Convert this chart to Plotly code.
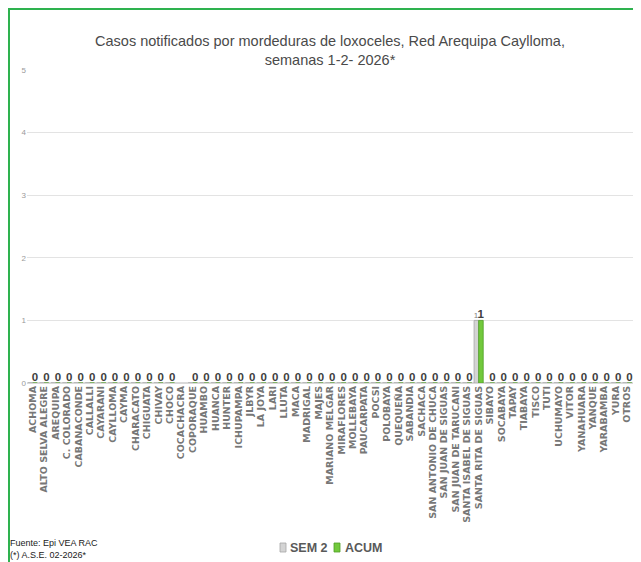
import plotly.graph_objects as go

categories = [
    "ACHOMA", "ALTO SELVA ALEGRE", "AREQUIPA", "C. COLORADO", "CABANACONDE",
    "CALLALLI", "CAYARANI", "CAYLLOMA", "CAYMA", "CHARACATO", "CHIGUATA",
    "CHIVAY", "CHOCO", "COCACHACRA", "COPORAQUE", "HUAMBO", "HUANCA", "HUNTER",
    "ICHUPAMPA", "JLBYR", "LA JOYA", "LARI", "LLUTA", "MACA", "MADRIGAL",
    "MAJES", "MARIANO MELGAR", "MIRAFLORES", "MOLLEBAYA", "PAUCARPATA",
    "POCSI", "POLOBAYA", "QUEQUEÑA", "SABANDIA", "SACHACA",
    "SAN ANTONIO DE CHUCA", "SAN JUAN DE SIGUAS", "SAN JUAN DE TARUCANI",
    "SANTA ISABEL DE SIGUAS", "SANTA RITA DE SIGUAS", "SIBAYO", "SOCABAYA",
    "TAPAY", "TIABAYA", "TISCO", "TUTI", "UCHUMAYO", "VITOR", "YANAHUARA",
    "YANQUE", "YARABAMBA", "YURA", "OTROS",
]

sem2 = [0] * len(categories)
acum = [0] * len(categories)
sem2[categories.index("SANTA RITA DE SIGUAS")] = 1
acum[categories.index("SANTA RITA DE SIGUAS")] = 1
acum[categories.index("COCACHACRA")] = None
sem2[categories.index("COCACHACRA")] = None

series_names = ["SEM 2", "ACUM"]
series_colors = ["#d4d4d4", "#72c93c"]
y_ticks = [0, 1, 2, 3, 4, 5]

# page is offset by the browser's 8px body margin
OFF = 8
W, H = 641 - OFF, 562 - OFF
# plot area in page pixels: x 27..633, y 70..383
L = 27 - OFF
R = W - (633 - OFF)
T = 70 - OFF
B = H - (383 - OFF)
pw, ph = W - L - R, H - T - B


def px_x(p):
    return (p - OFF - L) / pw


def px_y(p):
    return (H - B - (p - OFF)) / ph


sans = "Liberation Sans, Arial, sans-serif"

sem2_text = ["" if (v is None or v == 0) else str(v) for v in sem2]
acum_text = ["" if v is None else str(v) for v in acum]

fig = go.Figure()
fig.add_trace(go.Bar(
    name=series_names[0], x=categories, y=sem2,
    marker=dict(color=series_colors[0], line=dict(color="#a6a6a6", width=0.8)),
    text=sem2_text, textposition="outside", cliponaxis=False,
    constraintext="none",
    textfont=dict(family=sans, size=8, color="#808080"),
    showlegend=False,
))
fig.add_trace(go.Bar(
    name=series_names[1], x=categories, y=acum,
    marker=dict(color=series_colors[1], line=dict(color="#4e9e26", width=0.8)),
    text=acum_text, textposition="outside", cliponaxis=False,
    constraintext="none",
    textfont=dict(family=sans, size=11.5, color="#404040", weight="bold"),
    showlegend=False,
))

# legend built from squares + text (page pixel positions)
legend_items = [
    (series_names[0], series_colors[0], "#a6a6a6", 280, 288),
    (series_names[1], series_colors[1], "#4e9e26", 334, 343),
]
shapes = [
    dict(type="line", xref="paper", yref="paper",
         x0=px_x(OFF), x1=px_x(641), y0=px_y(OFF + 1), y1=px_y(OFF + 1),
         line=dict(color="#2eb24f", width=2)),
    dict(type="line", xref="paper", yref="paper",
         x0=px_x(OFF + 1), x1=px_x(OFF + 1), y0=px_y(OFF), y1=px_y(562),
         line=dict(color="#2eb24f", width=2)),
]
annotations = [
    dict(text="Fuente: Epi VEA RAC", x=px_x(OFF), y=px_y(543), xref="paper",
         yref="paper", xanchor="left", yanchor="middle", showarrow=False,
         font=dict(family=sans, size=9, color="#1a1a1a")),
    dict(text="(*) A.S.E. 02-2026*", x=px_x(OFF), y=px_y(555), xref="paper",
         yref="paper", xanchor="left", yanchor="middle", showarrow=False,
         font=dict(family=sans, size=9, color="#1a1a1a")),
]
for name, fill, edge, sx, tx in legend_items:
    shapes.append(dict(type="rect", xref="paper", yref="paper",
                       x0=px_x(sx), x1=px_x(sx + 6), y0=px_y(552), y1=px_y(543),
                       fillcolor=fill, line=dict(color=edge, width=0.8)))
    annotations.append(dict(text=name, x=px_x(tx), y=px_y(548), xref="paper",
                            yref="paper", xanchor="left", yanchor="middle",
                            showarrow=False,
                            font=dict(family=sans, size=12.5, color="#595959",
                                      weight="bold")))

fig.update_layout(
    width=W, height=H,
    margin=dict(l=L, r=R, t=T, b=B, autoexpand=False),
    paper_bgcolor="white", plot_bgcolor="white",
    barmode="group", bargap=0.2, bargroupgap=0,
    title=dict(
        text="Casos notificados por mordeduras de loxoceles, Red Arequipa Caylloma,<br>semanas 1-2- 2026*",
        x=px_x(330), xref="paper", xanchor="center",
        y=1 - (46 - OFF) / H, yref="container", yanchor="middle",
        font=dict(family=sans, size=14.5, color="#4a4a4a"),
    ),
    showlegend=False,
    xaxis=dict(
        type="category", tickangle=-90, showgrid=False,
        tickmode="array", tickvals=categories, ticktext=categories,
        tickfont=dict(family="DejaVu Sans, Verdana, sans-serif", size=9.5,
                      color="#777777", weight="bold"),
        showline=False, ticks="", zeroline=False,
    ),
    yaxis=dict(
        range=[0, 5], tickvals=y_ticks, showgrid=True, gridcolor="#e3e3e3",
        gridwidth=1, zeroline=True, zerolinecolor="#d9d9d9",
        tickfont=dict(family=sans, size=8, color="#9a9a9a"),
        showline=False, ticks="",
    ),
    annotations=annotations,
    shapes=shapes,
)

fig.write_html("out.html")
